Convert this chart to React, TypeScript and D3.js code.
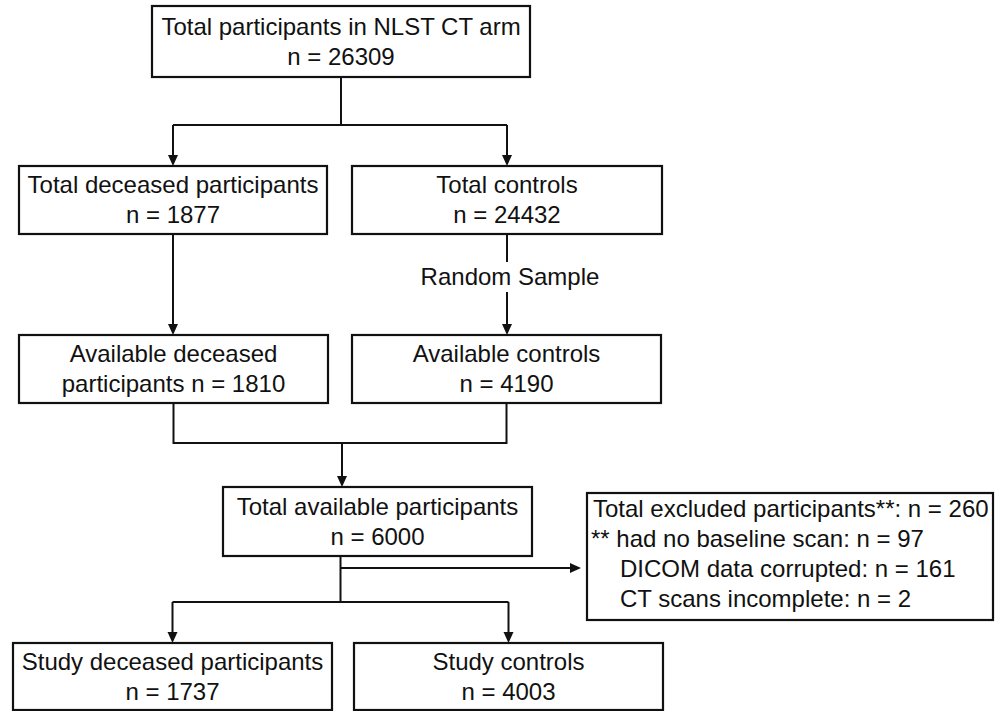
import * as React from 'react';
import * as d3 from 'd3';

// flow stages (text) and their counts
const stageIds = ['total', 'deceased', 'controls', 'availDeceased', 'availControls', 'available', 'studyDeceased', 'studyControls'];
const stageTitles = [
  ['Total participants in NLST CT arm'],
  ['Total deceased participants'],
  ['Total controls'],
  ['Available deceased', 'participants'],
  ['Available controls'],
  ['Total available participants'],
  ['Study deceased participants'],
  ['Study controls'],
];
const stageCounts = [26309, 1877, 24432, 1810, 4190, 6000, 1737, 4003];

const samplingLabel = 'Random Sample';

const exclusionReasons = ['had no baseline scan', 'DICOM data corrupted', 'CT scans incomplete'];
const exclusionCounts = [97, 161, 2];

// box geometry in page pixels
const layout: Record<string, [number, number, number, number]> = {
  total: [152, 6, 530, 77],
  deceased: [19, 166, 327, 234],
  controls: [352, 166, 662, 234],
  availDeceased: [19, 335, 328, 403],
  availControls: [352, 335, 661, 403],
  available: [223, 487, 532, 556],
  excluded: [587, 493, 993, 620],
  studyDeceased: [13, 643, 332, 710],
  studyControls: [354, 643, 663, 710],
};

const W = 1005;
const H = 711;
const FONT = '"Liberation Sans", Arial, sans-serif';
const FS = 24;
const LH = 30;
const INK = '#111';

function stageLines(i: number): string[] {
  const t = stageTitles[i];
  const n = `n = ${stageCounts[i]}`;
  if (t.length > 1) return [t[0], `${t[1]} ${n}`];
  return [t[0], n];
}

const cx = (id: string) => (layout[id][0] + layout[id][2]) / 2;
const top = (id: string) => layout[id][1];
const bottom = (id: string) => layout[id][3];

const App: React.FC = () => {
  const line = d3.line<[number, number]>();

  const arrowHead = (x: number, y: number, dir: 'down' | 'right') => {
    const len = 11, hw = 5;
    const pts: [number, number][] = dir === 'down'
      ? [[x, y], [x - hw, y - len], [x + hw, y - len]]
      : [[x, y], [x - len, y - hw], [x - len, y + hw]];
    return <path d={line(pts)! + 'Z'} fill={INK} />;
  };

  const segs: { pts: [number, number][]; arrow?: 'down' | 'right' }[] = [];

  // split from total
  const splitY1 = 125;
  const midTop = cx('total');
  segs.push({ pts: [[midTop, bottom('total')], [midTop, splitY1]] });
  segs.push({ pts: [[cx('deceased'), splitY1], [cx('controls'), splitY1]] });
  segs.push({ pts: [[cx('deceased'), splitY1], [cx('deceased'), top('deceased')]], arrow: 'down' });
  segs.push({ pts: [[cx('controls'), splitY1], [cx('controls'), top('controls')]], arrow: 'down' });

  // deceased -> available deceased
  segs.push({ pts: [[cx('deceased'), bottom('deceased')], [cx('deceased'), top('availDeceased')]], arrow: 'down' });

  // controls -> random sample -> available controls
  const rsY = 277;
  segs.push({ pts: [[cx('controls'), bottom('controls')], [cx('controls'), rsY - 15]] });
  segs.push({ pts: [[cx('controls'), rsY + 15], [cx('controls'), top('availControls')]], arrow: 'down' });

  // merge
  const mergeY = 443;
  const midMerge = (cx('availDeceased') + cx('availControls')) / 2 + 2;
  segs.push({ pts: [[cx('availDeceased'), bottom('availDeceased')], [cx('availDeceased'), mergeY], [cx('availControls'), mergeY], [cx('availControls'), bottom('availControls')]] });
  segs.push({ pts: [[midMerge, mergeY], [midMerge, top('available')]], arrow: 'down' });

  // available -> exclusion + study split
  const splitY2 = 602;
  const exclY = 568;
  const midLow = (cx('studyDeceased') + cx('studyControls')) / 2;
  segs.push({ pts: [[midLow, bottom('available')], [midLow, splitY2]] });
  segs.push({ pts: [[midLow, exclY], [layout.excluded[0] - 6, exclY]], arrow: 'right' });
  segs.push({ pts: [[cx('studyDeceased'), splitY2], [cx('studyControls'), splitY2]] });
  segs.push({ pts: [[cx('studyDeceased'), splitY2], [cx('studyDeceased'), top('studyDeceased')]], arrow: 'down' });
  segs.push({ pts: [[cx('studyControls'), splitY2], [cx('studyControls'), top('studyControls')]], arrow: 'down' });

  const exclTotal = d3.sum(exclusionCounts);
  const exclLines = [
    { text: `Total excluded participants**: n = ${exclTotal}`, dx: 6 },
    ...exclusionReasons.map((r, i) => ({ text: `${i === 0 ? '** ' : ''}${r}: n = ${exclusionCounts[i]}`, dx: i === 0 ? 4 : 33 })),
  ];

  return (
    <div style={{ position: 'absolute', left: 0, top: 0 }}>
      <svg width={W} height={H} style={{ display: 'block', background: '#fff' }} fontFamily={FONT} fontSize={FS}>
        {segs.map((s, i) => {
          const p = s.pts.slice() as [number, number][];
          const last = p[p.length - 1];
          if (s.arrow === 'down') p[p.length - 1] = [last[0], last[1] - 8];
          if (s.arrow === 'right') p[p.length - 1] = [last[0] - 8, last[1]];
          return (
            <g key={i}>
              <path d={line(p)!} fill="none" stroke={INK} strokeWidth={2} />
              {s.arrow && arrowHead(last[0], last[1], s.arrow)}
            </g>
          );
        })}

        {stageIds.map((id, i) => {
          const [x0, y0, x1, y1] = layout[id];
          const lines = stageLines(i);
          const cy = (y0 + y1) / 2;
          return (
            <g key={id}>
              <rect x={x0} y={y0} width={x1 - x0} height={y1 - y0} fill="#fff" stroke={INK} strokeWidth={2.2} />
              {lines.map((t, j) => (
                <text key={j} x={(x0 + x1) / 2} y={cy + (j - (lines.length - 1) / 2) * LH + 8} textAnchor="middle" fill={INK}>{t}</text>
              ))}
            </g>
          );
        })}

        <text x={cx('controls') + 3} y={rsY + 8} textAnchor="middle" fill={INK}>{samplingLabel}</text>

        {(() => {
          const [x0, y0, x1, y1] = layout.excluded;
          return (
            <g>
              <rect x={x0} y={y0} width={x1 - x0} height={y1 - y0} fill="#fff" stroke={INK} strokeWidth={2.2} />
              {exclLines.map((l, j) => (
                <text key={j} x={x0 + l.dx} y={y0 + 24 + j * LH} fill={INK}>{l.text}</text>
              ))}
            </g>
          );
        })()}
      </svg>
    </div>
  );
};

export default App;
